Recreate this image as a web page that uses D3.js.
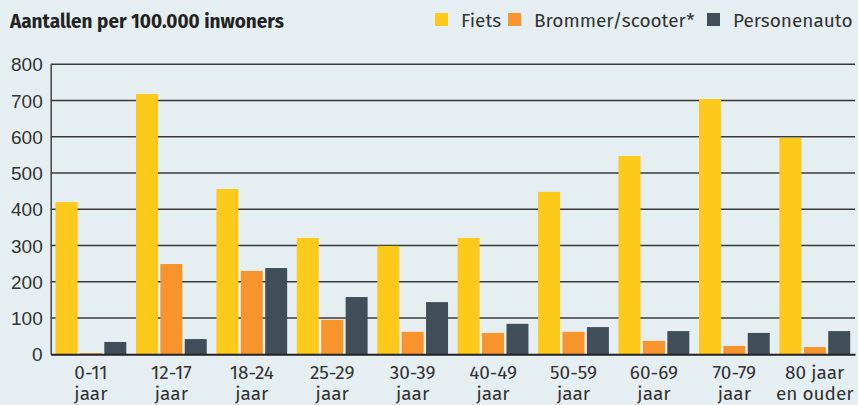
<!DOCTYPE html>
<meta charset="utf-8">
<style>
body { margin: 0; background: #e5eef1; }
svg { display: block; font-family: "Fira Sans", "Open Sans", sans-serif; }
.title { font-weight: bold; font-size: 19px; fill: #222; }
.legend text { font-size: 19px; fill: #333; }
.axis text { font-size: 19px; fill: #333; }
.grid line { stroke: #3a3a3a; stroke-width: 1.5; }
</style>
<svg width="858" height="405"></svg>
<script src="https://d3js.org/d3.v7.min.js"></script>
<script>
var categories = [["0-11", "jaar"], ["12-17", "jaar"], ["18-24", "jaar"], ["25-29", "jaar"], ["30-39", "jaar"],
                  ["40-49", "jaar"], ["50-59", "jaar"], ["60-69", "jaar"], ["70-79", "jaar"], ["80 jaar", "en ouder"]];
var series = ["Fiets", "Brommer/scooter*", "Personenauto"];
var colors = ["#fdc91b", "#f7942b", "#404e5a"];
var fiets = [420, 718, 456, 321, 299, 321, 448, 547, 704, 597];
var brommer = [3, 249, 230, 95, 62, 59, 62, 37, 23, 20];
var auto = [34, 42, 238, 158, 144, 84, 75, 64, 59, 64];
var yTicks = [0, 100, 200, 300, 400, 500, 600, 700, 800];

var values = [fiets, brommer, auto];
var svg = d3.select("svg");
var mLeft = 50.7, mRight = 855, mTop = 64.3, mBottom = 354.3;

var x0 = d3.scaleBand().domain(d3.range(categories.length)).range([mLeft, mRight])
    .paddingInner(0.12).paddingOuter(0.06);
var x1 = d3.scaleBand().domain(d3.range(series.length)).range([0, x0.bandwidth()]).paddingInner(0.1);
var y = d3.scaleLinear().domain([0, 800]).range([mBottom, mTop]);

svg.append("text").attr("class", "title").attr("x", 10).attr("y", 28).text("Aantallen per 100.000 inwoners");

// gridlines
svg.append("g").attr("class", "grid")
  .selectAll("line").data(yTicks.slice(1)).enter().append("line")
    .attr("x1", mLeft).attr("x2", mRight)
    .attr("y1", function(d) { return y(d); }).attr("y2", function(d) { return y(d); });

// y axis
var yAxis = svg.append("g").attr("class", "axis")
    .attr("transform", "translate(" + mLeft + ",0)")
    .call(d3.axisLeft(y).tickValues(yTicks).tickSize(0).tickPadding(8));
yAxis.select(".domain").attr("stroke", "#444").attr("stroke-width", 1.5);
yAxis.selectAll("text").attr("dy", "0.35em");

// bars
var groups = svg.append("g").selectAll("g").data(categories).enter().append("g")
    .attr("transform", function(d, i) { return "translate(" + x0(i) + ",0)"; });
groups.selectAll("rect")
  .data(function(d, i) { return values.map(function(v, s) { return { s: s, v: v[i] }; }); })
  .enter().append("rect")
    .attr("x", function(d) { return x1(d.s); })
    .attr("width", x1.bandwidth())
    .attr("y", function(d) { return y(d.v); })
    .attr("height", function(d) { return mBottom - y(d.v); })
    .attr("fill", function(d) { return colors[d.s]; });

// x axis
var xAxis = svg.append("g").attr("class", "axis")
    .attr("transform", "translate(0," + mBottom + ")")
    .call(d3.axisBottom(x0).tickSize(0).tickFormat(""));
xAxis.select(".domain").attr("stroke", "#222").attr("stroke-width", 2);
var xl = svg.append("g").attr("class", "axis").selectAll("text").data(categories).enter().append("text")
    .attr("text-anchor", "middle")
    .attr("transform", function(d, i) { return "translate(" + (x0(i) + x0.bandwidth() / 2) + ",0)"; });
xl.append("tspan").attr("x", 0).attr("y", 379).text(function(d) { return d[0]; });
xl.append("tspan").attr("x", 0).attr("y", 400).text(function(d) { return d[1]; });

// legend
var legX = [435, 508, 707];
var leg = svg.append("g").attr("class", "legend").selectAll("g").data(series).enter().append("g")
    .attr("transform", function(d, i) { return "translate(" + legX[i] + ",0)"; });
leg.append("rect").attr("x", 0).attr("y", 13).attr("width", 13).attr("height", 13)
    .attr("fill", function(d, i) { return colors[i]; });
leg.append("text").attr("x", 26).attr("y", 27).text(function(d) { return d; });
</script>
